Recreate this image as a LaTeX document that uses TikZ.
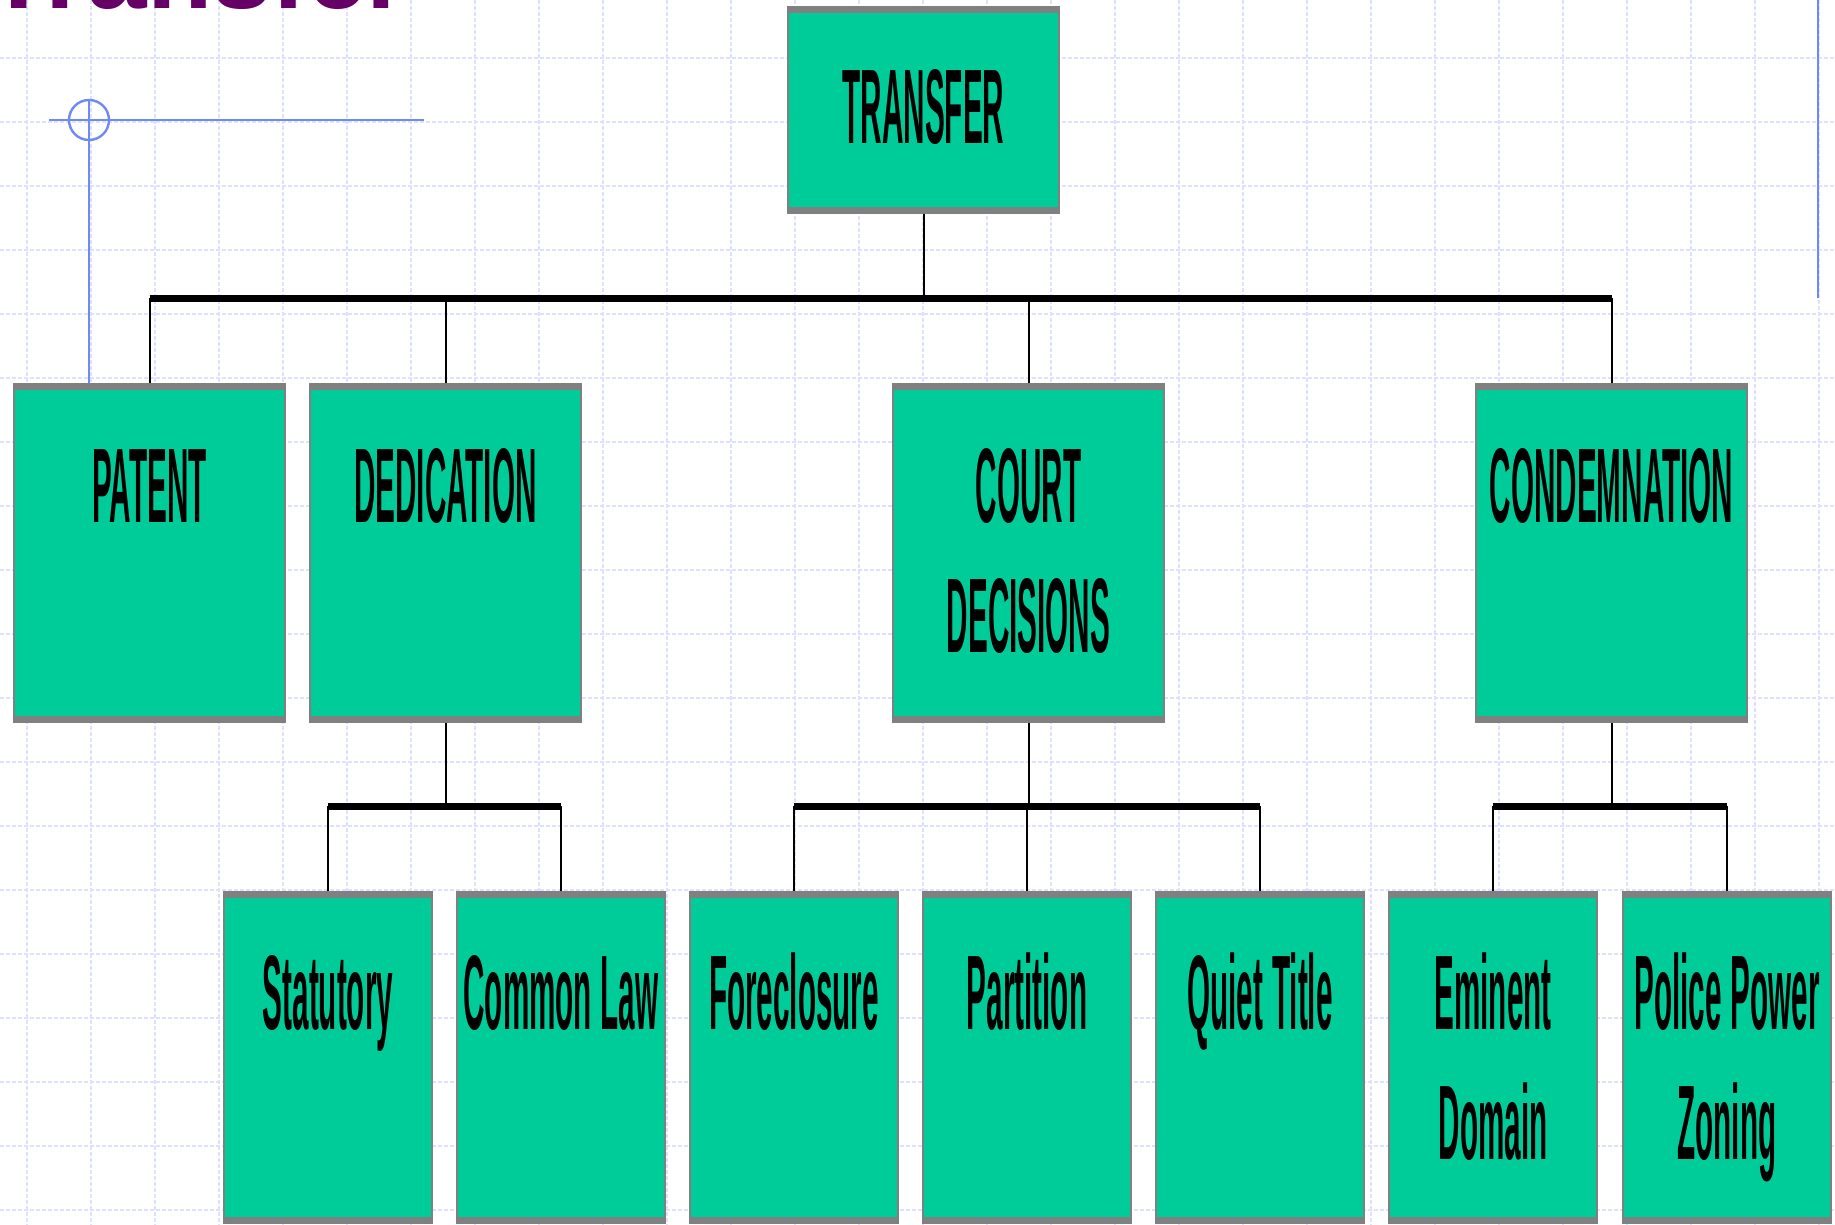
\documentclass[tikz,border=0pt]{standalone}
\usepackage{fontspec}
\setmainfont{Liberation Sans}
\newfontfamily\boxfont[FakeStretch=0.28]{Liberation Sans Bold}
\newfontfamily\titlefont{Liberation Sans Bold}
\usetikzlibrary{calc}
\definecolor{boxgreen}{RGB}{0,204,153}
\definecolor{boxgray}{RGB}{128,128,128}
\definecolor{gridblue}{RGB}{220,226,251}
\definecolor{decoblue}{RGB}{112,138,245}
\definecolor{titlepurple}{RGB}{102,0,102}
\tikzset{
  gridline/.style={draw=gridblue, line width=0.7pt, dash pattern=on 2pt off 1pt},
  deco/.style={draw=decoblue, line width=1.2pt},
  boxA/.style={draw=boxgray, line width=1pt, fill=boxgreen, inner sep=0pt, anchor=north west,
    minimum width=135.5pt, minimum height=169pt},
  boxT/.style={boxA, minimum height=103pt},
  boxB/.style={boxA, minimum width=104pt, minimum height=165.5pt},
  lbl/.style={anchor=base, inner sep=0pt, text width=130pt, align=center,
    font=\boxfont\fontsize{53}{65}\selectfont,
    execute at begin node={\spaceskip=4.2pt plus 1pt\relax\xspaceskip=4.2pt plus 1pt\relax}},
  conn/.style={draw=black, line width=1pt},
  busline/.style={draw=black, line width=3.5pt},
}
\begin{document}
\begin{tikzpicture}[x=0.5pt, y=-0.5pt]
\useasboundingbox (0,0) rectangle (1835,1225);
\clip (0,0) rectangle (1835,1225);
\fill[white] (0,0) rectangle (1835,1225);
% background grid
\foreach \x in {27,91,...,1819} \draw[gridline] (\x,0) -- (\x,1225);
\foreach \y in {58,122,...,1210} \draw[gridline] (0,\y) -- (1835,\y);
% cut-off slide title
\node[anchor=base west, inner sep=0pt, text=titlepurple, font=\titlefont\fontsize{53.5}{60}\selectfont] (title) at (-14,9) {Transfer};
% blue decorations
\draw[deco] (49,120) -- (424,120);
\draw[deco] (89,120) circle[radius=20];
\draw[deco] (1818,0) -- (1818,298);
% boxes
\node[boxT] (transfer) at (787,6) {};
\node[boxA] (patent) at (13,383) {};
\node[boxA] (dedic) at (309,383) {};
\node[boxA] (court) at (892,383) {};
\node[boxA] (condem) at (1475,383) {};
\node[boxB] (stat) at (223,891) {};
\node[boxB] (common) at (456,891) {};
\node[boxB] (fore) at (689,891) {};
\node[boxB] (part) at (922,891) {};
\node[boxB] (quiet) at (1155,891) {};
\node[boxB] (eminent) at (1388,891) {};
\node[boxB] (police) at (1622,891) {};
\foreach \n in {transfer,patent,dedic,court,condem,stat,common,fore,part,quiet,eminent,police}{
  \fill[boxgray] (\n.north west) rectangle ($(\n.north east)+(0,7)$);
  \fill[boxgray] (\n.south west) rectangle ($(\n.south east)+(0,-7)$);
}
\draw[deco] (89,100) -- (89,0 |- patent.north);
% connectors level 1
\coordinate (bus1) at (922,298);
\draw[conn] (transfer.south) -- (transfer.south |- bus1);
\foreach \n in {patent,dedic,court,condem} \draw[conn] (\n.north) -- (\n.north |- bus1);
\draw[busline] (patent.north |- bus1) -- (condem.north |- bus1);
% connectors level 2
\coordinate (bus2) at (443,806);
\draw[conn] (dedic.south) -- (dedic.south |- bus2);
\draw[conn] (court.south) -- (court.south |- bus2);
\draw[conn] (condem.south) -- (condem.south |- bus2);
\foreach \n in {stat,common,fore,part,quiet,eminent,police} \draw[conn] (\n.north) -- (\n.north |- bus2);
\draw[busline] (stat.north |- bus2) -- (common.north |- bus2);
\draw[busline] (fore.north |- bus2) -- (quiet.north |- bus2);
\draw[busline] (eminent.north |- bus2) -- (police.north |- bus2);
% labels
\node[lbl] (tTransfer) at (transfer.center |- 0,144) {TRANSFER};
\node[lbl] (tPatent) at (patent.center |- 0,522) {PATENT};
\node[lbl] (tDedic) at (dedic.center |- 0,522) {DEDICATION};
\node[lbl] (tCourt) at (court.center |- 0,522) {COURT\\DECISIONS};
\node[lbl] (tCondem) at (condem.center |- 0,522) {CONDEMNATION};
\node[lbl] (tStat) at (stat.center |- 0,1029) {Statutory};
\node[lbl] (tCommon) at (common.center |- 0,1029) {Common Law};
\node[lbl] (tFore) at (fore.center |- 0,1029) {Foreclosure};
\node[lbl] (tPart) at (part.center |- 0,1029) {Partition};
\node[lbl] (tQuiet) at (quiet.center |- 0,1029) {Quiet Title};
\node[lbl] (tEminent) at (eminent.center |- 0,1029) {Eminent\\Domain};
\node[lbl] (tPolice) at (police.center |- 0,1029) {Police Power\\Zoning};
\end{tikzpicture}
\end{document}
